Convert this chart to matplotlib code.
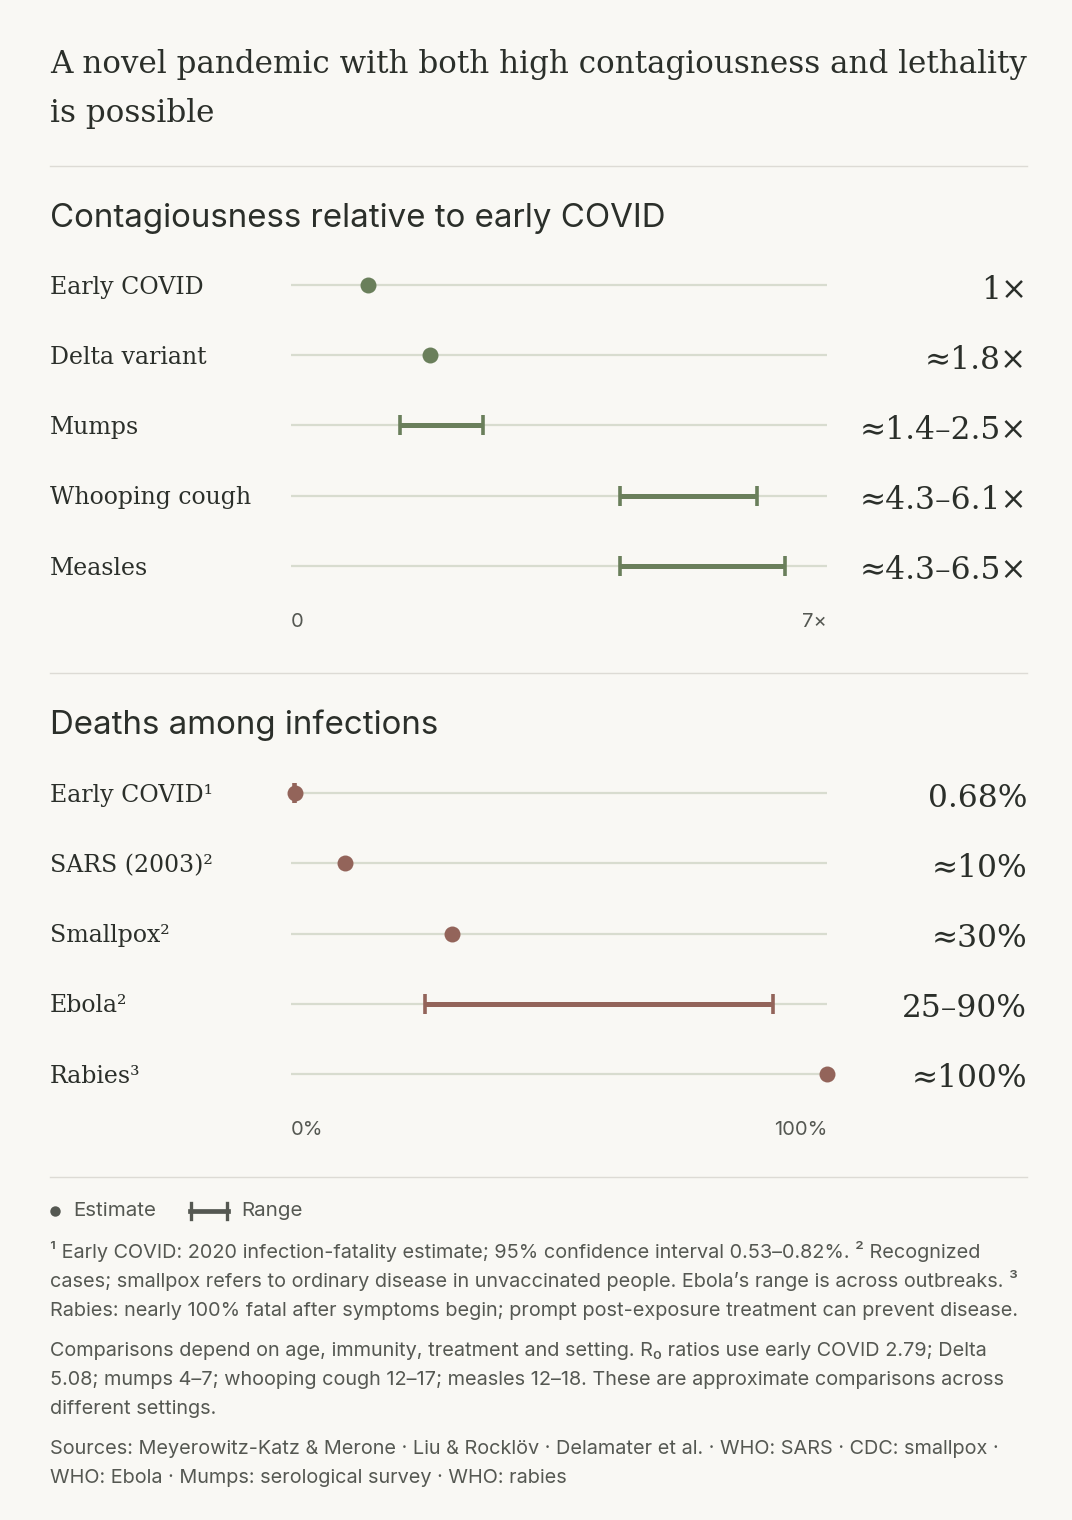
import matplotlib
matplotlib.use("Agg")
import matplotlib.pyplot as plt
from matplotlib.lines import Line2D
from matplotlib.transforms import blended_transform_factory

W, H = 1072, 1520
BG = '#f9f8f4'
INK = '#2b2f2a'
GREEN = '#6a7f5b'
BROWN = '#93645a'
GRID = '#d8dccf'
RULE = '#dddbd5'
MUTED = '#555852'
SERIF = ['DejaVu Serif']
SANS = ['Inter', 'DejaVu Sans']

title_lines = ['A novel pandemic with both high contagiousness and lethality',
               'is possible']

# contagiousness, R0 ratio vs early COVID (2.79)
contag_labels = ['Early COVID', 'Delta variant', 'Mumps', 'Whooping cough', 'Measles']
contag_est = [1.0, 1.82, None, None, None]
contag_low = [None, None, 1.43, 4.30, 4.30]
contag_high = [None, None, 2.51, 6.09, 6.45]
contag_text = ['1×', '≈1.8×', '≈1.4–2.5×', '≈4.3–6.1×', '≈4.3–6.5×']
contag_ticks = ['0', '7×']

# deaths among infections, percent
death_labels = ['Early COVID¹', 'SARS (2003)²', 'Smallpox²', 'Ebola²', 'Rabies³']
death_est = [0.68, 10, 30, None, 100]
death_low = [0.53, None, None, 25, None]
death_high = [0.82, None, None, 90, None]
death_text = ['0.68%', '≈10%', '≈30%', '25–90%', '≈100%']
death_ticks = ['0%', '100%']

notes = [
    ['¹ Early COVID: 2020 infection-fatality estimate; 95% confidence interval 0.53–0.82%. ² Recognized',
     'cases; smallpox refers to ordinary disease in unvaccinated people. Ebola’s range is across outbreaks. ³',
     'Rabies: nearly 100% fatal after symptoms begin; prompt post-exposure treatment can prevent disease.'],
    ['Comparisons depend on age, immunity, treatment and setting. R₀ ratios use early COVID 2.79; Delta',
     '5.08; mumps 4–7; whooping cough 12–17; measles 12–18. These are approximate comparisons across',
     'different settings.'],
    ['Sources: Meyerowitz-Katz & Merone · Liu & Rocklöv · Delamater et al. · WHO: SARS · CDC: smallpox ·',
     'WHO: Ebola · Mumps: serological survey · WHO: rabies'],
]


def fx(px):
    return px / W


def fy(py):
    return 1 - py / H


fig = plt.figure(figsize=(W / 100, H / 100), dpi=100)
fig.patch.set_facecolor(BG)

# title, fitted to the column width
t1 = fig.text(fx(50), fy(73), title_lines[0], family=SERIF, size=24, color=INK, va='baseline')
r = fig.canvas.get_renderer()
size = 24 * 977 / t1.get_window_extent(r).width
t1.set_fontsize(size)
fig.text(fx(50), fy(122), title_lines[1], family=SERIF, size=size, color=INK, va='baseline')

for y in [166, 673, 1177]:
    fig.add_artist(Line2D([fx(50), fx(1027)], [fy(y), fy(y)], transform=fig.transFigure,
                          color=RULE, lw=1))


def panel(heading, head_y, top, labels, est, low, high, values, color, xmax, ticks):
    fig.text(fx(50), fy(head_y), heading, family=SANS, size=23.8, color=INK, va='baseline')
    ax = fig.add_axes([fx(291), fy(top + 351), 536 / W, 351 / H])
    ax.set_xlim(0, xmax)
    ax.set_ylim(4.5, -0.5)
    ax.axis('off')
    tr = blended_transform_factory(fig.transFigure, ax.transData)
    for i, lab in enumerate(labels):
        ax.plot([0, xmax], [i, i], color=GRID, lw=1.6, zorder=1, solid_capstyle='butt')
        if low[i] is not None:
            mid = (low[i] + high[i]) / 2
            ax.errorbar(mid, i, xerr=(high[i] - low[i]) / 2, fmt='none', ecolor=color,
                        elinewidth=3.6, capsize=7.5, capthick=2.6, zorder=2, clip_on=False)
        if est[i] is not None:
            ax.plot(est[i], i, 'o', ms=11.5, color=color, mew=0, zorder=3, clip_on=False)
        ax.text(fx(50), i + 0.03, lab, transform=tr, family=SERIF, size=17, color=INK,
                va='center')
        ax.text(fx(1027), i + 0.07, values[i], transform=tr, family=SERIF, size=22.5,
                color=INK, va='center', ha='right')
    xt = ax.get_xaxis_transform()
    ax.text(0, -0.06, ticks[0], transform=xt, family=SANS, size=14.5, color=MUTED,
            ha='left', va='center')
    ax.text(xmax, -0.06, ticks[1], transform=xt, family=SANS, size=14.5, color=MUTED,
            ha='right', va='center')
    return ax


panel('Contagiousness relative to early COVID', 227, 250, contag_labels, contag_est,
      contag_low, contag_high, contag_text, GREEN, 7, contag_ticks)
panel('Deaths among infections', 734, 758, death_labels, death_est,
      death_low, death_high, death_text, BROWN, 100, death_ticks)

# legend
fig.add_artist(Line2D([fx(55)], [fy(1211)], marker='o', ms=7.5, color=MUTED, mew=0,
                      transform=fig.transFigure))
fig.text(fx(73), fy(1211), 'Estimate', family=SANS, size=14.8, color=MUTED, va='center')
fig.add_artist(Line2D([fx(190), fx(228)], [fy(1211), fy(1211)], color=MUTED, lw=3.4,
                      transform=fig.transFigure))
for xc in [191, 227]:
    fig.add_artist(Line2D([fx(xc), fx(xc)], [fy(1203), fy(1219)], color=MUTED, lw=2.4,
                          transform=fig.transFigure))
fig.text(fx(241), fy(1211), 'Range', family=SANS, size=14.8, color=MUTED, va='center')

# footnotes
y = 1258
for para in notes:
    for line in para:
        fig.text(fx(50), fy(y), line, family=SANS, size=14.3, color=MUTED, va='baseline')
        y += 29
    y += 11

fig.savefig('out.png', dpi=100, facecolor=BG)
